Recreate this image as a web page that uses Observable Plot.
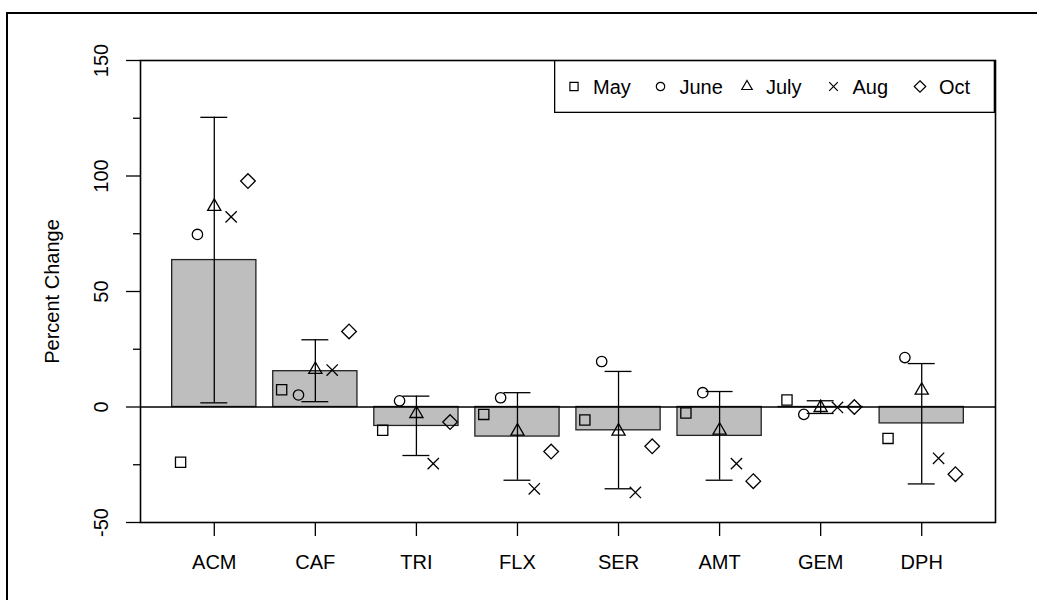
<!DOCTYPE html>
<html>
<head>
<meta charset="utf-8">
<script src="https://cdn.jsdelivr.net/npm/d3@7"></script>
<script src="https://cdn.jsdelivr.net/npm/@observablehq/plot@0.6"></script>
<style>
  html, body { margin: 0; padding: 0; background: #fff; overflow: hidden; }
  #wrap { position: relative; width: 1037px; height: 600px; overflow: hidden; }
  #outer { position: absolute; left: 6px; top: 12px; width: 1200px; height: 800px;
           border-left: 2px solid #000; border-top: 2px solid #000; pointer-events: none; }
  #chart { position: absolute; left: 0; top: 0; }
  #legend { position: absolute; left: 554px; top: 60px; }
</style>
</head>
<body>
<div id="wrap">
  <div id="outer"></div>
  <div id="chart"></div>
  <div id="legend"></div>
</div>
<script>
// Compounds on the x axis
const categories = ["ACM", "CAF", "TRI", "FLX", "SER", "AMT", "GEM", "DPH"];
// Sampling months shown as point symbols
const months = ["May", "June", "July", "Aug", "Oct"];

// Percent change per compound, one array per month
const may  = [-23.9,  7.5, -10.1,  -3.2,  -5.6,  -2.6,  3.0, -13.6];
const june = [ 74.7,  5.2,   2.7,   4.0,  19.7,   6.2, -3.2,  21.4];
const july = [ 86.8, 16.2,  -2.9, -10.5, -10.5, -10.1, -0.3,   7.2];
const aug  = [ 82.3, 16.0, -24.5, -35.4, -37.0, -24.5, -0.2, -22.2];
const oct  = [ 97.8, 32.7,  -6.5, -19.3, -17.0, -32.1,  0.0, -29.1];

// Mean change (bars) and interval limits (error bars)
const meanChange = [63.6, 15.5,  -8.2, -12.8, -10.1, -12.5, -0.1,  -7.1];
const ciLower    = [ 1.8,  2.3, -21.0, -31.7, -35.4, -31.7, -2.8, -33.3];
const ciUpper    = [125.4, 29.1,  4.7,   6.2,  15.4,   6.7,  2.7,  18.8];

// Axis ticks
const yTicks = [-50, 0, 50, 100, 150];
const yMinorTicks = [-25, 25, 75, 125];

// Bar layout in barplot units: width 1, gap 0.2
const mids = categories.map((_, i) => 0.7 + 1.2 * i);
const catAt = v => categories[Math.round((v - 0.7) / 1.2)];

const bars = categories.map((c, i) => ({
  cat: c, mid: mids[i], mean: meanChange[i], lo: ciLower[i], hi: ciUpper[i]
}));

const monthSeries = [may, june, july, aug, oct];
const offsets = [-0.4, -0.2, 0, 0.2, 0.4];
const symbols = ["square2", "circle", "triangle2", "times", "diamond2"];
const radii = [6.5, 5.2, 6.3, 5.2, 6.6];
const points = months.flatMap((m, j) =>
  monthSeries[j].map((v, i) => ({month: m, x: mids[i] + offsets[j], value: v})));

const font = "'Liberation Sans', Arial, Helvetica, sans-serif";
const capHalf = 0.16;

const chart = Plot.plot({
  width: 1037,
  height: 600,
  marginLeft: 140,
  marginRight: 42,
  marginTop: 60,
  marginBottom: 78,
  style: {fontFamily: font, fontSize: "20px", background: "transparent", color: "#000", overflow: "visible"},
  x: {domain: [-0.176, 9.976], label: null},
  y: {domain: [-50, 150], label: null},
  marks: [
    Plot.rect(bars, {
      x1: d => d.mid - 0.5, x2: d => d.mid + 0.5, y1: 0, y2: "mean",
      fill: "#bebebe", stroke: "#222", strokeWidth: 1.3
    }),
    Plot.ruleY([0], {stroke: "#000", strokeWidth: 1.3}),
    Plot.ruleX(bars, {x: "mid", y1: "lo", y2: "hi", stroke: "#000", strokeWidth: 1.3}),
    Plot.ruleY(bars, {y: "hi", x1: d => d.mid - capHalf, x2: d => d.mid + capHalf, stroke: "#000", strokeWidth: 1.3}),
    Plot.ruleY(bars, {y: "lo", x1: d => d.mid - capHalf, x2: d => d.mid + capHalf, stroke: "#000", strokeWidth: 1.3}),
    ...months.map((m, j) => Plot.dot(points.filter(p => p.month === m), {
      x: "x", y: "value", symbol: symbols[j], r: radii[j],
      stroke: "#000", strokeWidth: 1.3, fill: "none"
    })),
    Plot.frame({stroke: "#000", strokeWidth: 1.6}),
    Plot.axisX({
      ticks: mids, tickFormat: catAt, tickSize: 14, tickPadding: 18,
      fontSize: 20, label: null, stroke: "#000", strokeWidth: 1.3
    }),
    Plot.axisY({ticks: yTicks, tickSize: 14, tickFormat: () => "", label: null, strokeWidth: 1.3}),
    Plot.axisY({ticks: yMinorTicks, tickSize: 7, tickFormat: () => "", label: null, strokeWidth: 1.3}),
    Plot.text(yTicks, {
      y: d => d, text: d => String(d), frameAnchor: "left", textAnchor: "middle",
      dx: -39, rotate: -90, fontSize: 20, fill: "#000"
    }),
    Plot.text(["Percent Change"], {
      text: d => d, frameAnchor: "left", textAnchor: "middle",
      dx: -88, rotate: -90, fontSize: 20, fill: "#000"
    })
  ]
});
document.getElementById("chart").appendChild(chart);

// Legend box: symbol and month name for each series
const legW = 441, legH = 53, step = 86.5;
const leg = d3.select("#legend").append("svg")
  .attr("width", legW).attr("height", legH)
  .style("font-family", font).style("font-size", "20px");
leg.append("rect").attr("x", 0.65).attr("y", 0.65)
  .attr("width", legW - 1.3).attr("height", legH - 1.3)
  .attr("fill", "#fff").attr("stroke", "#000").attr("stroke-width", 1.3);
const d3Symbols = [d3.symbolSquare2, d3.symbolCircle, d3.symbolTriangle2, d3.symbolTimes, d3.symbolDiamond2];
const legR = [5.2, 4.2, 5.0, 4.0, 5.2];
months.forEach((m, j) => {
  const sx = 20 + step * j, cy = legH / 2;
  leg.append("path")
    .attr("transform", `translate(${sx},${cy})`)
    .attr("d", d3.symbol(d3Symbols[j], Math.PI * legR[j] * legR[j])())
    .attr("fill", "none").attr("stroke", "#000").attr("stroke-width", 1.2);
  leg.append("text").attr("x", sx + 19).attr("y", cy + 7.2).attr("fill", "#000").text(m);
});
</script>
</body>
</html>
